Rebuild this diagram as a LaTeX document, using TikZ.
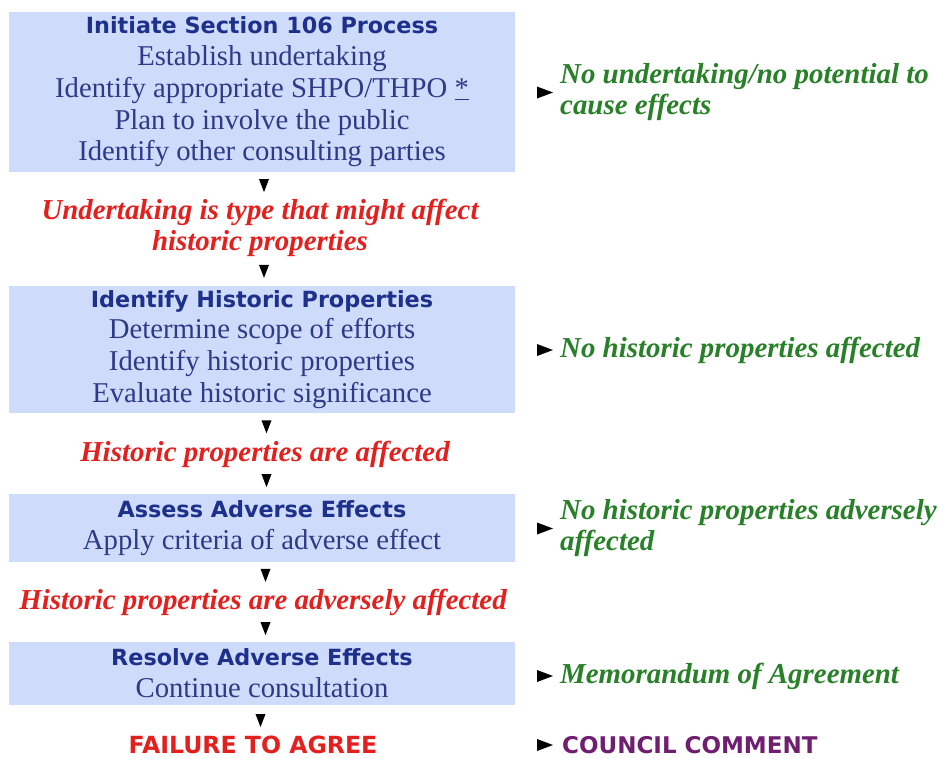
\documentclass[tikz,border=0pt]{standalone}
\usepackage{fontspec}
\setmainfont{Liberation Serif}
\newfontfamily\vsans{DejaVu Sans}
\definecolor{boxblue}{RGB}{207,219,250}
\definecolor{titleblue}{RGB}{28,48,140}
\definecolor{bodyblue}{RGB}{45,58,135}
\definecolor{redtxt}{RGB}{228,32,30}
\definecolor{greentxt}{RGB}{40,128,40}
\definecolor{purpletxt}{RGB}{112,30,112}
\newcommand{\ttlfont}{\vsans\bfseries\fontsize{22.3}{31.8}\selectfont\color{titleblue}}
\tikzset{
  stepbox/.style={fill=boxblue, minimum width=506pt, minimum height=#1, inner sep=0pt,
    align=center, text=bodyblue, font=\fontsize{28.7}{31.8}\selectfont},
  cond/.style={inner sep=0pt, align=center, text=redtxt, font=\fontsize{28.9}{31}\selectfont\bfseries\itshape},
  outcome/.style={inner sep=0pt, anchor=west, align=left, text=greentxt, font=\fontsize{28.9}{31}\selectfont\bfseries\itshape},
  capsred/.style={inner sep=0pt, text=redtxt, font=\vsans\bfseries\fontsize{23.6}{31}\selectfont},
  capspurple/.style={inner sep=0pt, anchor=west, text=purpletxt, font=\vsans\bfseries\fontsize{23}{31}\selectfont},
  dtri/.pic={\fill[black] (-5,-6.5) -- (5,-6.5) -- (0,6.5) -- cycle;},
  rtri/.pic={\fill[black] (-8,-6) -- (8,0) -- (-8,6) -- cycle;},
}
\begin{document}
\begin{tikzpicture}[x=1pt, y=-1pt]
\useasboundingbox (0,0) rectangle (939,758);
\fill[white] (0,0) rectangle (939,758);

% main column
\node[stepbox=160pt] (b1) at (262,92) {{\ttlfont Initiate Section 106 Process}\\Establish undertaking\\Identify appropriate SHPO/THPO \underline{*}\\Plan to involve the public\\Identify other consulting parties};
\node[cond] (r1) at (260,228) {Undertaking is type that might affect\\historic properties};
\node[stepbox=127pt] (b2) at (262,349.5) {{\ttlfont Identify Historic Properties}\\Determine scope of efforts\\Identify historic properties\\Evaluate historic significance};
\node[cond] (r2) at (265,454) {Historic properties are affected};
\node[stepbox=68pt] (b3) at (262,528) {{\ttlfont Assess Adverse Effects}\\Apply criteria of adverse effect};
\node[cond] (r3) at (263,602) {Historic properties are adversely affected};
\node[stepbox=63pt] (b4) at (262,673.5) {{\ttlfont Resolve Adverse Effects}\\Continue consultation};
\node[capsred] (fail) at (253,745) {FAILURE TO AGREE};

% outcomes
\node[outcome] (g1) at (560,92.5) {No undertaking/no potential to\\cause effects};
\node[outcome] (g2) at (560,350) {No historic properties affected};
\node[outcome] (g3) at (560,528.5) {No historic properties adversely\\affected};
\node[outcome] (g4) at (560,676) {Memorandum of Agreement};
\node[capspurple] (cc) at (562,745) {COUNCIL COMMENT};

% downward markers
\path (b1.south) -- (r1.north) coordinate[midway] (d1);
\path (r1.south) -- (b2.north) coordinate[midway] (d2);
\path (b2.south) -- (r2.north) coordinate[midway] (d3);
\path (r2.south) -- (b3.north) coordinate[midway] (d4);
\path (b3.south) -- (r3.north) coordinate[midway] (d5);
\path (r3.south) -- (b4.north) coordinate[midway] (d6);
\path (b4.south) -- (fail.north) coordinate[midway] (d7);
\foreach \c in {d1,d2,d3,d4,d5,d6,d7} { \pic at ([xshift=3pt]\c) {dtri}; }

% rightward markers
\path (b1.east) -- ([xshift=-15pt]g1.west) coordinate[pos=1] (e1);
\path (b2.east) -- ([xshift=-15pt]g2.west) coordinate[pos=1] (e2);
\path (b3.east) -- ([xshift=-15pt]g3.west) coordinate[pos=1] (e3);
\path (b4.east) -- ([xshift=-15pt]g4.west) coordinate[pos=1] (e4);
\path (fail.east) -- ([xshift=-17pt]cc.west) coordinate[pos=1] (e5);
\foreach \c in {e1,e2,e3,e4,e5} { \pic at (\c) {rtri}; }
\end{tikzpicture}
\end{document}
